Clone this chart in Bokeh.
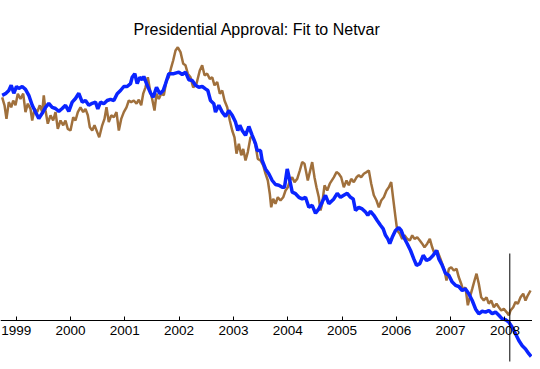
from bokeh.plotting import figure
from bokeh.models import Range1d, FixedTicker
from bokeh.embed import file_html
from bokeh.resources import INLINE

title_text = "Presidential Approval: Fit to Netvar"

tick_years = [1999, 2000, 2001, 2002, 2003, 2004, 2005, 2006, 2007, 2008]
tick_labels = ["1999", "2000", "2001", "2002", "2003", "2004", "2005", "2006", "2007", "2008"]

# Observed approval (brown)
approval_year = [
    1998.742, 1998.785, 1998.821, 1998.864, 1998.908, 1998.945, 1998.987, 1999.030, 1999.079, 1999.129,
    1999.171, 1999.214, 1999.263, 1999.295, 1999.337, 1999.387, 1999.435, 1999.479, 1999.508, 1999.540,
    1999.582, 1999.632, 1999.681, 1999.724, 1999.766, 1999.816, 1999.866, 1999.908, 1999.950, 2000.000,
    2000.050, 2000.092, 2000.135, 2000.184, 2000.234, 2000.276, 2000.319, 2000.356, 2000.400, 2000.442,
    2000.492, 2000.529, 2000.584, 2000.626, 2000.663, 2000.705, 2000.750, 2000.798, 2000.847, 2000.890,
    2000.934, 2000.982, 2001.031, 2001.074, 2001.118, 2001.166, 2001.216, 2001.258, 2001.302, 2001.339,
    2001.381, 2001.424, 2001.460, 2001.504, 2001.547, 2001.584, 2001.626, 2001.670, 2001.718, 2001.768,
    2001.810, 2001.855, 2001.891, 2001.934, 2001.976, 2002.026, 2002.076, 2002.118, 2002.160, 2002.210,
    2002.260, 2002.320, 2002.381, 2002.425, 2002.468, 2002.518, 2002.565, 2002.610, 2002.652, 2002.702,
    2002.750, 2002.794, 2002.836, 2002.886, 2002.934, 2002.978, 2003.020, 2003.057, 2003.100, 2003.144,
    2003.181, 2003.223, 2003.265, 2003.315, 2003.365, 2003.407, 2003.449, 2003.499, 2003.549, 2003.591,
    2003.634, 2003.670, 2003.696, 2003.733, 2003.775, 2003.818, 2003.867, 2003.917, 2003.960, 2004.002,
    2004.039, 2004.083, 2004.125, 2004.175, 2004.223, 2004.267, 2004.309, 2004.346, 2004.370, 2004.407,
    2004.451, 2004.493, 2004.530, 2004.573, 2004.604, 2004.635, 2004.678, 2004.728, 2004.775, 2004.849,
    2004.899, 2004.941, 2004.985, 2005.033, 2005.083, 2005.125, 2005.169, 2005.217, 2005.267, 2005.309,
    2005.353, 2005.402, 2005.451, 2005.494, 2005.538, 2005.586, 2005.635, 2005.678, 2005.722, 2005.770,
    2005.820, 2005.862, 2005.906, 2005.943, 2005.985, 2006.017, 2006.064, 2006.109, 2006.151, 2006.201,
    2006.249, 2006.293, 2006.335, 2006.385, 2006.433, 2006.477, 2006.519, 2006.569, 2006.617, 2006.661,
    2006.704, 2006.753, 2006.801, 2006.845, 2006.888, 2006.924, 2006.967, 2007.011, 2007.059, 2007.109,
    2007.151, 2007.195, 2007.232, 2007.274, 2007.317, 2007.354, 2007.398, 2007.440, 2007.477, 2007.519,
    2007.563, 2007.611, 2007.661, 2007.703, 2007.747, 2007.796, 2007.845, 2007.888, 2007.932, 2007.980,
    2008.030, 2008.072, 2008.103, 2008.153, 2008.195, 2008.238, 2008.288, 2008.337, 2008.379, 2008.422,
    2008.472,
]
approval_value = [
    55.8, 53.8, 50.4, 54.6, 53.3, 55.0, 53.8, 56.7, 55.4, 56.7,
    52.1, 54.2, 52.9, 50.0, 52.9, 52.1, 53.8, 52.1, 56.3, 52.5,
    49.2, 51.3, 50.0, 52.1, 47.9, 50.0, 48.8, 50.0, 47.9, 47.5,
    50.8, 50.0, 52.1, 53.3, 52.1, 52.9, 51.3, 48.3, 47.5, 48.8,
    47.1, 45.8, 48.8, 50.4, 53.3, 49.6, 51.3, 50.8, 52.1, 47.5,
    50.4, 52.1, 53.3, 55.0, 54.6, 55.0, 54.2, 55.2, 53.8, 56.7,
    58.3, 60.8, 57.9, 55.4, 52.5, 56.7, 55.4, 56.7, 56.3, 60.0,
    60.8, 63.3, 65.0, 67.5, 68.3, 67.1, 64.2, 63.8, 61.7, 60.8,
    58.3, 59.2, 62.5, 63.8, 61.3, 61.7, 60.4, 60.8, 58.8, 59.6,
    56.7, 57.5, 55.0, 53.3, 50.0, 47.5, 45.8, 41.7, 44.2, 41.3,
    42.9, 40.0, 42.1, 45.8, 45.8, 43.8, 40.4, 40.0, 38.8, 36.7,
    35.0, 31.7, 28.3, 30.4, 29.2, 30.8, 30.0, 30.8, 32.5, 33.3,
    35.0, 35.8, 34.6, 35.4, 37.5, 39.6, 39.2, 36.7, 35.0, 37.1,
    39.6, 35.8, 33.3, 30.8, 27.5, 29.2, 33.8, 32.5, 34.2, 35.8,
    37.1, 36.7, 35.8, 33.3, 35.0, 33.8, 35.4, 34.6, 35.8, 36.3,
    35.8, 36.7, 37.1, 37.5, 34.2, 31.3, 30.0, 28.3, 30.0, 30.8,
    32.5, 33.3, 34.6, 30.4, 25.8, 22.5, 21.7, 20.4, 21.3, 20.4,
    20.0, 21.3, 20.4, 20.8, 20.0, 19.2, 18.3, 19.2, 20.4, 18.3,
    16.7, 17.5, 15.8, 14.2, 12.5, 10.0, 12.9, 13.3, 12.5, 12.9,
    10.8, 9.2, 7.5, 8.3, 3.8, 5.8, 7.9, 10.0, 11.7, 9.2,
    5.8, 5.0, 5.8, 4.2, 5.0, 3.3, 4.2, 3.3, 2.5, 2.9,
    2.1, 1.3, 2.5, 3.3, 4.6, 4.2, 5.8, 6.7, 5.0, 6.3,
    7.5,
]

# Netvar fit (blue)
fit_year = [
    1998.742, 1998.803, 1998.864, 1998.908, 1998.956, 1999.006, 1999.048, 1999.111, 1999.171, 1999.232,
    1999.295, 1999.356, 1999.416, 1999.479, 1999.540, 1999.600, 1999.663, 1999.724, 1999.785, 1999.847,
    1999.908, 1999.969, 2000.031, 2000.092, 2000.153, 2000.216, 2000.276, 2000.337, 2000.400, 2000.461,
    2000.503, 2000.553, 2000.613, 2000.676, 2000.737, 2000.798, 2000.860, 2000.921, 2000.982, 2001.044,
    2001.105, 2001.136, 2001.184, 2001.228, 2001.276, 2001.321, 2001.350, 2001.413, 2001.473, 2001.523,
    2001.584, 2001.645, 2001.707, 2001.750, 2001.810, 2001.903, 2001.995, 2002.057, 2002.118, 2002.179,
    2002.241, 2002.302, 2002.363, 2002.426, 2002.486, 2002.529, 2002.578, 2002.639, 2002.670, 2002.731,
    2002.794, 2002.855, 2002.915, 2002.978, 2003.039, 2003.081, 2003.118, 2003.162, 2003.223, 2003.284,
    2003.346, 2003.407, 2003.438, 2003.499, 2003.530, 2003.591, 2003.652, 2003.715, 2003.775, 2003.836,
    2003.899, 2003.941, 2003.991, 2004.039, 2004.083, 2004.144, 2004.205, 2004.267, 2004.328, 2004.389,
    2004.451, 2004.512, 2004.573, 2004.635, 2004.696, 2004.757, 2004.849, 2004.912, 2004.972, 2005.033,
    2005.096, 2005.157, 2005.206, 2005.249, 2005.309, 2005.372, 2005.433, 2005.475, 2005.525, 2005.586,
    2005.648, 2005.709, 2005.759, 2005.801, 2005.844, 2005.880, 2005.925, 2005.985, 2006.046, 2006.090,
    2006.138, 2006.201, 2006.262, 2006.322, 2006.372, 2006.433, 2006.496, 2006.556, 2006.617, 2006.680,
    2006.740, 2006.783, 2006.845, 2006.906, 2006.967, 2007.030, 2007.090, 2007.151, 2007.214, 2007.274,
    2007.335, 2007.398, 2007.459, 2007.519, 2007.582, 2007.643, 2007.704, 2007.766, 2007.827, 2007.888,
    2007.950, 2008.011, 2008.072, 2008.134, 2008.195, 2008.256, 2008.319, 2008.379, 2008.440, 2008.484,
]
fit_value = [
    56.3, 56.7, 57.5, 58.8, 56.8, 58.5, 58.0, 58.5, 57.8, 56.3,
    53.8, 52.1, 50.5, 51.8, 53.3, 54.3, 53.3, 53.0, 52.3, 53.0,
    53.8, 52.3, 54.6, 55.5, 56.8, 54.6, 55.0, 53.8, 54.3, 54.6,
    52.9, 54.6, 54.2, 55.0, 55.3, 55.0, 56.7, 57.5, 58.5, 58.5,
    59.2, 60.8, 61.7, 59.2, 60.8, 60.2, 61.0, 58.8, 56.9, 55.8,
    58.3, 56.7, 57.5, 59.2, 61.7, 61.7, 62.1, 61.5, 62.1, 60.2,
    60.0, 58.8, 58.3, 58.5, 57.9, 57.5, 55.0, 54.2, 52.1, 53.8,
    52.1, 51.0, 52.5, 51.3, 49.6, 47.5, 48.8, 47.5, 46.3, 48.5,
    46.3, 44.2, 42.5, 42.5, 40.0, 37.9, 36.7, 35.0, 34.0, 33.8,
    33.3, 33.3, 37.9, 35.0, 32.1, 31.7, 30.8, 30.4, 30.8, 28.3,
    28.8, 26.8, 27.9, 29.6, 31.3, 29.2, 30.4, 31.8, 30.8, 31.3,
    31.8, 30.8, 30.4, 27.5, 28.3, 27.9, 27.1, 26.3, 27.3, 26.3,
    25.0, 23.8, 22.9, 21.3, 20.4, 19.2, 20.8, 22.5, 23.2, 22.5,
    20.8, 19.2, 17.5, 15.4, 13.8, 14.2, 16.3, 15.0, 15.4, 16.3,
    17.5, 15.4, 13.8, 11.8, 11.3, 9.6, 8.8, 8.5, 7.5, 7.9,
    6.7, 5.0, 2.9, 1.7, 2.3, 2.1, 2.5, 1.7, 2.1, 1.3,
    0.4, 0.2, -0.4, -1.7, -3.3, -5.0, -6.3, -7.1, -8.3, -9.0,
]

cutoff_year = 2008.09
cutoff_low = -10.25
cutoff_high = 16.75

p = figure(
    width=532, height=365,
    output_backend="svg", toolbar_location=None,
    x_range=Range1d(1998.711, 2008.508),
    y_range=Range1d(-11.25, 69.75),
    y_axis_location=None,
    min_border=0, min_border_top=41,
    title=title_text,
)
p.title.text_font = "Liberation Sans"
p.title.text_font_size = "16px"
p.title.text_font_style = "normal"
p.title.text_color = "black"
p.title.align = "left"
p.title.offset = 133
p.title.standoff = 8

p.outline_line_color = None
p.xgrid.visible = False
p.ygrid.visible = False
p.background_fill_color = "white"
p.border_fill_color = "white"

p.line(approval_year, approval_value, line_color="#A0703C", line_width=2.5)
p.line(fit_year, fit_value, line_color="#0A24FF", line_width=3.5)
p.segment(x0=[cutoff_year], y0=[cutoff_low], x1=[cutoff_year], y1=[cutoff_high],
          line_color="black", line_width=1)

ax = p.xaxis[0]
ax.fixed_location = 0
ax.ticker = FixedTicker(ticks=tick_years)
ax.major_label_overrides = {y: s for y, s in zip(tick_years, tick_labels)}
ax.major_tick_in = 4
ax.major_tick_out = 0
ax.minor_tick_in = 0
ax.minor_tick_out = 0
ax.axis_line_color = "black"
ax.axis_line_width = 1
ax.major_tick_line_color = "black"
ax.major_label_text_font = "Liberation Sans"
ax.major_label_text_font_size = "13.5px"
ax.major_label_text_color = "black"
ax.major_label_standoff = 5

open("out.html", "w").write(file_html(p, INLINE))
